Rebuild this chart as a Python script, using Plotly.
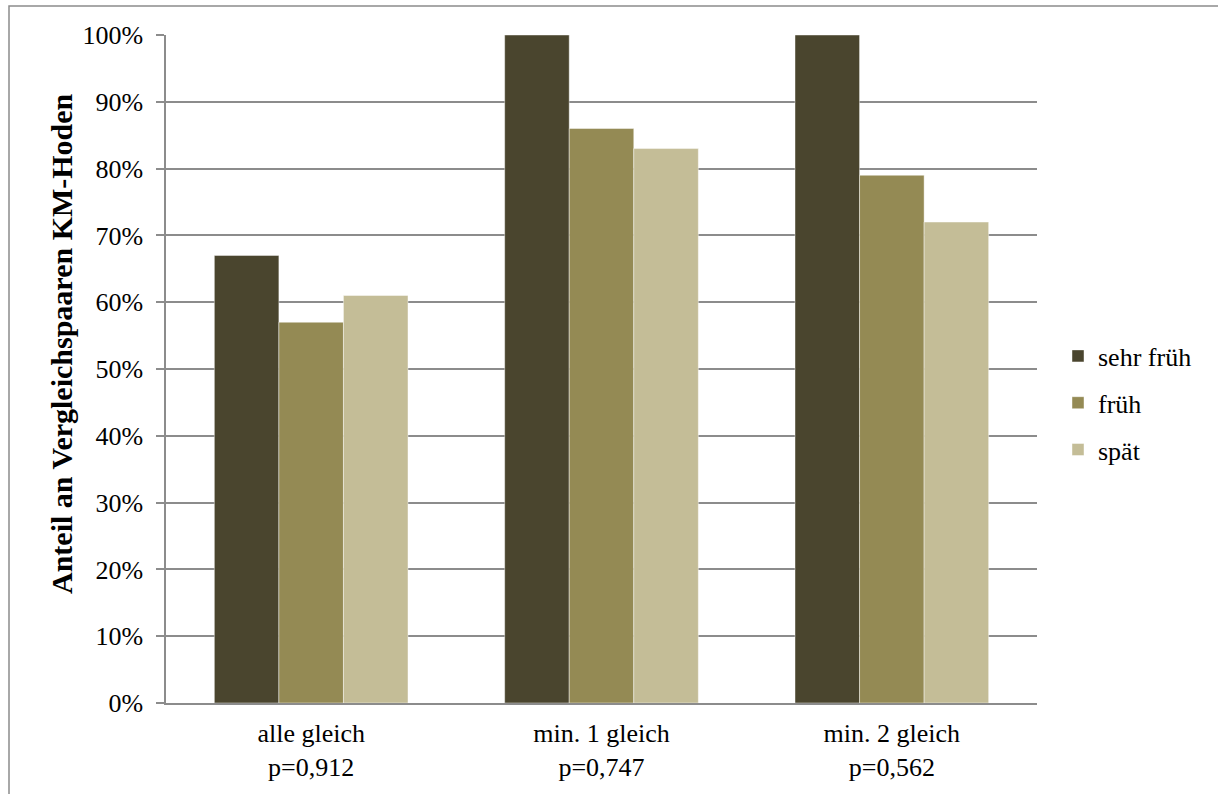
import plotly.graph_objects as go

# Chart data
categories = ["alle gleich<br>p=0,912", "min. 1 gleich<br>p=0,747", "min. 2 gleich<br>p=0,562"]
series_names = ["sehr früh", "früh", "spät"]
sehr_frueh = [0.67, 1.00, 1.00]
frueh = [0.57, 0.86, 0.79]
spaet = [0.61, 0.83, 0.72]
y_ticks = [0, 0.1, 0.2, 0.3, 0.4, 0.5, 0.6, 0.7, 0.8, 0.9, 1.0]
y_title = "Anteil an Vergleichspaaren KM-Hoden"

colors = ["#4A452E", "#948A54", "#C4BD97"]
font_family = "Liberation Serif"
grid_color = "#8C8C8C"
label_size = 26

fig = go.Figure()
for i, (name, vals) in enumerate(zip(series_names, [sehr_frueh, frueh, spaet])):
    fig.add_trace(go.Bar(
        x=categories,
        y=vals,
        name=name,
        legendgroup=name,
        marker=dict(color=colors[i], line=dict(color="rgba(255,255,255,0.55)", width=0.8)),
    ))

# plot area in pixels
W, H = 1218, 794
L, R, T, B = 166, 1037, 35, 703

def px_x(p):
    return (p - L) / (R - L)

def px_y(p):
    return (B - p) / (B - T)

fig.update_layout(
    width=W,
    height=H,
    autosize=False,
    margin=dict(l=L, r=W - R, t=T, b=H - B),
    paper_bgcolor="white",
    plot_bgcolor="white",
    barmode="group",
    bargap=0.333,
    bargroupgap=0,
    font=dict(family=font_family, size=label_size, color="black"),
    showlegend=True,
    legend=dict(
        x=px_x(1058), xanchor="left",
        y=px_y(403), yanchor="middle",
        font=dict(family=font_family, size=label_size, color="black"),
        tracegroupgap=10,
        bgcolor="rgba(0,0,0,0)",
    ),
    xaxis=dict(
        showgrid=False,
        showline=True,
        linecolor=grid_color,
        linewidth=1.5,
        ticks="",
        ticklabelstandoff=6,
        tickfont=dict(family=font_family, size=label_size, color="black"),
    ),
    yaxis=dict(
        range=[0, 1],
        tickvals=y_ticks,
        tickformat=".0%",
        showgrid=True,
        gridcolor=grid_color,
        gridwidth=1.5,
        showline=True,
        linecolor=grid_color,
        linewidth=1.5,
        ticks="outside",
        ticklen=8,
        tickcolor=grid_color,
        tickwidth=1.5,
        ticklabelstandoff=8,
        tickfont=dict(family=font_family, size=label_size, color="black"),
        zeroline=False,
    ),
    annotations=[
        dict(
            text="<b>" + y_title + "</b>",
            xref="paper", yref="paper",
            x=px_x(62), y=px_y(344),
            xanchor="center", yanchor="middle",
            textangle=-90,
            showarrow=False,
            font=dict(family=font_family, size=30, color="black"),
        )
    ],
    shapes=[
        dict(
            type="rect", xref="paper", yref="paper",
            x0=px_x(9), x1=px_x(1230), y0=px_y(810), y1=px_y(6),
            line=dict(color="#8C8C8C", width=1.5),
            fillcolor="rgba(0,0,0,0)",
            layer="below",
        )
    ],
)

fig.write_html("out.html")
